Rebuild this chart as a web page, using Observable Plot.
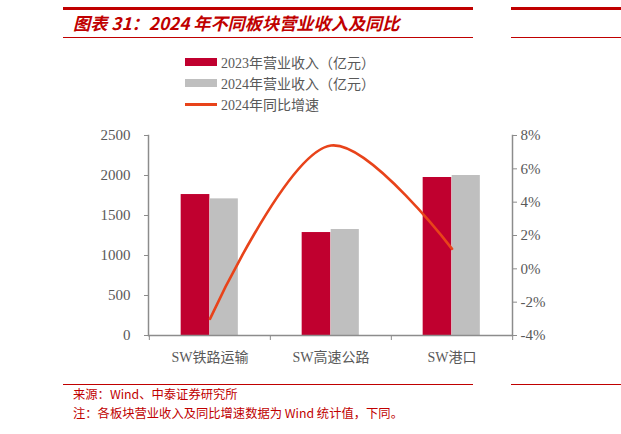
<!DOCTYPE html>
<html>
<head>
<meta charset="utf-8">
<script src="https://cdn.jsdelivr.net/npm/d3@7"></script>
<script src="https://cdn.jsdelivr.net/npm/@observablehq/plot@0.6"></script>
<style>
  html, body { margin: 0; padding: 0; background: #fff; }
  #page { position: relative; width: 621px; height: 434px; overflow: hidden; font-family: "Noto Sans CJK SC", sans-serif; }
  .abs { position: absolute; }
  .redline { position: absolute; background: #c00000; }
  #title { left: 73px; top: 11px; font-size: 17.2px; font-weight: bold; font-style: italic; color: #c00000; white-space: nowrap; letter-spacing: 0px; line-height: 24px; }
  .leg { position: absolute; left: 185px; display: flex; align-items: center; height: 20px; font-family: "Liberation Serif", "Noto Sans CJK SC", serif; font-size: 14px; color: #595959; white-space: nowrap; }
  .sw { width: 32px; margin-right: 4px; }
  .foot { position: absolute; left: 73px; font-size: 12.3px; color: #c00000; white-space: nowrap; line-height: 16px; }
  #chart { position: absolute; left: 0; top: 120px; }
</style>
</head>
<body>
<div id="page">
  <div class="redline" style="left:63px; top:7px; width:410px; height:2.5px;"></div>
  <div class="redline" style="left:511px; top:7px; width:110px; height:2.5px;"></div>
  <div id="title" class="abs">图表 31：2024 年不同板块营业收入及同比</div>
  <div class="redline" style="left:63px; top:36.5px; width:410px; height:1px;"></div>
  <div class="redline" style="left:511px; top:36.5px; width:110px; height:1px;"></div>

  <div id="legend"></div>
  <div id="chart"></div>

  <div class="redline" style="left:63px; top:384px; width:410px; height:1.3px;"></div>
  <div class="redline" style="left:511px; top:384px; width:110px; height:1.3px;"></div>
  <div class="foot" style="top:386px;">来源：Wind、中泰证券研究所</div>
  <div class="foot" style="top:405px;">注：各板块营业收入及同比增速数据为 Wind 统计值，下同。</div>
</div>
<script>
// ---- data ----
const categories = ["SW铁路运输", "SW高速公路", "SW港口"];
const revenue2023 = [1762, 1287, 1975];
const revenue2024 = [1708, 1325, 2000];
const growth2024 = [-3.0, 7.4, 1.2]; // %
const seriesNames = ["2023年营业收入（亿元）", "2024年营业收入（亿元）", "2024年同比增速"];
const leftTicks = [0, 500, 1000, 1500, 2000, 2500];
const rightTicks = [-4, -2, 0, 2, 4, 6, 8];

const colors = { r23: "#c0002f", r24: "#bfbfbf", growth: "#e8431a", axis: "#8c8c8c", text: "#595959" };

// ---- legend ----
const legend = document.getElementById("legend");
const legRows = [
  { name: seriesNames[0], color: colors.r23, h: 8, top: 52 },
  { name: seriesNames[1], color: colors.r24, h: 8, top: 73 },
  { name: seriesNames[2], color: colors.growth, h: 3, top: 94 }
];
for (const r of legRows) {
  const row = document.createElement("div");
  row.className = "leg";
  row.style.top = r.top + "px";
  const sw = document.createElement("div");
  sw.className = "sw";
  sw.style.height = r.h + "px";
  sw.style.background = r.color;
  const t = document.createElement("span");
  t.textContent = r.name;
  row.appendChild(sw);
  row.appendChild(t);
  legend.appendChild(row);
}

// ---- chart ----
const table = categories.map((c, i) => ({ cat: c, v23: revenue2023[i], v24: revenue2024[i], g: growth2024[i] }));
const yMax = 2500, gMin = -4, gMax = 8;
const gToY = g => (g - gMin) / (gMax - gMin) * yMax;

const W = 621, H = 260, mL = 148, mR = 109, mT = 15, mB = 45;
const step = (W - mL - mR) / categories.length;
const barW = 29;
const inner = step / 2 - barW;

const plot = Plot.plot({
  width: W, height: H,
  marginLeft: mL, marginRight: mR, marginTop: mT, marginBottom: mB,
  style: { fontFamily: "'Liberation Serif', 'Noto Sans CJK SC', serif", fontSize: "15px", color: colors.text, background: "transparent" },
  x: { domain: categories, padding: 0, label: null },
  y: { domain: [0, yMax], label: null },
  marks: [
    Plot.barY(table, { x: "cat", y: "v23", fill: colors.r23, insetLeft: inner, insetRight: step / 2 }),
    Plot.barY(table, { x: "cat", y: "v24", fill: colors.r24, insetLeft: step / 2, insetRight: inner + 0.5 }),
    Plot.line(table, { x: "cat", y: d => gToY(d.g), curve: "catmull-rom", stroke: colors.growth, strokeWidth: 2.6 }),
    Plot.axisY({ anchor: "left", ticks: leftTicks, tickFormat: d => String(d), tickSize: 4, tickPadding: 14, stroke: colors.axis, label: null, fill: colors.text }),
    Plot.axisY({ anchor: "right", ticks: rightTicks.map(gToY), tickFormat: v => Math.round(v / yMax * (gMax - gMin) + gMin) + "%", tickSize: 4, tickPadding: 4, stroke: colors.axis, label: null, fill: colors.text }),
    Plot.axisX({ anchor: "bottom", tickSize: 0, tickPadding: 17, fontSize: 14, label: null, fill: colors.text }),
    Plot.axisX({ anchor: "bottom", text: null, tickSize: 5, dx: -step / 2, stroke: colors.axis, label: null }),
    Plot.axisX(categories.slice(-1), { anchor: "bottom", text: null, tickSize: 5, dx: step / 2, stroke: colors.axis, label: null }),
    Plot.frame({ anchor: "left", stroke: colors.axis, strokeWidth: 1.5 }),
    Plot.frame({ anchor: "right", stroke: colors.axis, strokeWidth: 1.5 }),
    Plot.ruleY([0], { stroke: colors.axis, strokeWidth: 1.5 })
  ]
});
document.getElementById("chart").appendChild(plot);
</script>
</body>
</html>
